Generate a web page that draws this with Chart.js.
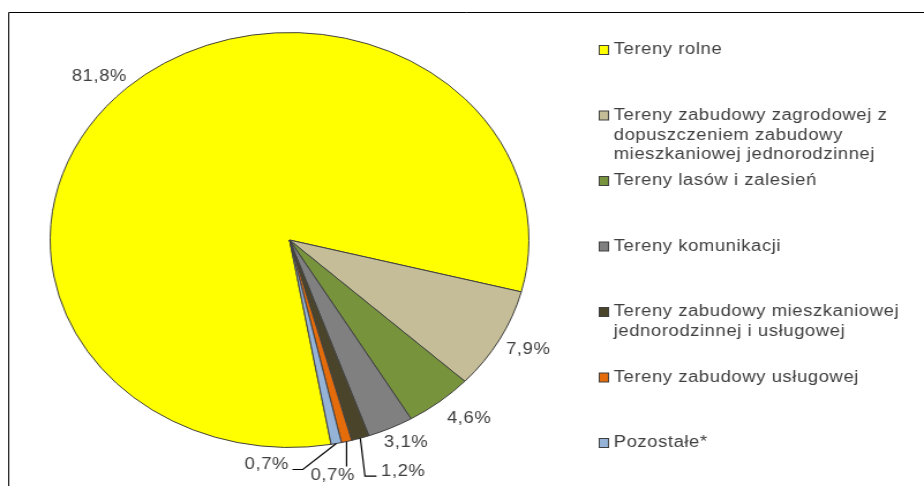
<!DOCTYPE html>
<html>
<head>
<meta charset="utf-8">
<script src="https://cdn.jsdelivr.net/npm/chart.js@4.4.1/dist/chart.umd.min.js"></script>
<style>
    html, body { margin: 0; padding: 0; background: #fff; overflow: hidden; }
    /* the source picture is a stretched screenshot, so the whole chart is widened the same way */
    #wrap { width: 801px; height: 486px; transform: scaleX(1.15356); transform-origin: 0 0; }
</style>
</head>
<body>
<div id="wrap"><canvas id="chart"></canvas></div>
<script>
const categories = [
    'Tereny rolne',
    'Tereny zabudowy zagrodowej z dopuszczeniem zabudowy mieszkaniowej jednorodzinnej',
    'Tereny lasów i zalesień',
    'Tereny komunikacji',
    'Tereny zabudowy mieszkaniowej jednorodzinnej i usługowej',
    'Tereny zabudowy usługowej',
    'Pozostałe*'
];
const shares = [81.8, 7.9, 4.6, 3.1, 1.2, 0.7, 0.7];
const valueLabels = shares.map(v => v.toFixed(1).replace('.', ',') + '%');

const sliceColors = ['#FFFF00', '#C4BD97', '#77933C', '#808080', '#4A452A', '#E46C0A', '#95B3D7'];
const textColor = '#404040';
const font = '16px "Liberation Sans", Arial, sans-serif';

// nudges for the outside labels, leader-line layout for the three small slices
const labelNudge = [[-7, 7], [3, -2], [10, -3], [3, -8]];

const drawDecor = {
    id: 'drawDecor',
    beforeDraw(chart) {
        const ctx = chart.ctx;
        ctx.save();
        ctx.strokeStyle = '#000';
        ctx.lineWidth = 1;
        ctx.beginPath();
        ctx.moveTo(7.5, chart.height + 5);
        ctx.lineTo(7.5, 12.5);
        ctx.lineTo(chart.width + 5, 12.5);
        ctx.stroke();
        ctx.restore();
    },
    afterDatasetsDraw(chart) {
        const ctx = chart.ctx;
        const arcs = chart.getDatasetMeta(0).data;
        ctx.save();
        ctx.font = font;
        ctx.letterSpacing = '0.5px';
        ctx.fillStyle = textColor;
        ctx.textBaseline = 'middle';
        ctx.strokeStyle = '#000';
        ctx.lineWidth = 1.2;

        arcs.forEach((arc, i) => {
            const { x, y, startAngle, endAngle, outerRadius } = arc.getProps(['x', 'y', 'startAngle', 'endAngle', 'outerRadius'], true);
            const mid = (startAngle + endAngle) / 2;
            const ex = x + Math.cos(mid) * outerRadius;
            const ey = y + Math.sin(mid) * outerRadius;
            const text = valueLabels[i];

            if (i < 4) {
                const r = outerRadius + 25;
                ctx.textAlign = 'center';
                ctx.fillText(text, x + Math.cos(mid) * r + labelNudge[i][0], y + Math.sin(mid) * r + labelNudge[i][1]);
                return;
            }
            ctx.beginPath();
            if (i === 4) {
                ctx.moveTo(ex, ey);
                ctx.lineTo(ex + 4, ey + 38);
                ctx.lineTo(ex + 14, ey + 38);
                ctx.stroke();
                ctx.textAlign = 'left';
                ctx.fillText(text, ex + 18, ey + 33);
            } else if (i === 5) {
                ctx.moveTo(ex, ey);
                ctx.lineTo(ex, ey + 25);
                ctx.stroke();
                ctx.textAlign = 'center';
                ctx.fillText(text, ex - 12, ey + 34);
            } else {
                ctx.moveTo(ex, ey);
                ctx.lineTo(ex - 29, ey + 26);
                ctx.lineTo(ex - 38, ey + 26);
                ctx.stroke();
                ctx.textAlign = 'right';
                ctx.fillText(text, ex - 41, ey + 21);
            }
        });

        // legend on the right, one slot per category
        const legendX = 519, textX = 532, firstY = 50, slot = 65.5, lineH = 19.7, maxW = 262;
        ctx.textAlign = 'left';
        ctx.lineWidth = 1;
        ctx.strokeStyle = '#404040';
        categories.forEach((name, i) => {
            const lines = wrapText(ctx, name, maxW);
            const top = firstY + i * slot;
            ctx.fillStyle = sliceColors[i];
            ctx.fillRect(legendX + 0.5, top - 4.5, 8, 9);
            ctx.strokeRect(legendX + 0.5, top - 4.5, 8, 9);
            ctx.fillStyle = textColor;
            lines.forEach((line, k) => ctx.fillText(line, textX, top + k * lineH));
        });
        ctx.restore();
    }
};

function wrapText(ctx, text, maxW) {
    const words = text.split(' ');
    const lines = [];
    let cur = '';
    words.forEach(w => {
        const test = cur ? cur + ' ' + w : w;
        if (cur && ctx.measureText(test).width > maxW) {
            lines.push(cur);
            cur = w;
        } else {
            cur = test;
        }
    });
    if (cur) lines.push(cur);
    return lines;
}

new Chart(document.getElementById('chart'), {
    type: 'pie',
    data: {
        labels: categories,
        datasets: [{
            data: shares,
            backgroundColor: sliceColors,
            borderColor: '#404040',
            borderWidth: 1
        }]
    },
    options: {
        responsive: true,
        maintainAspectRatio: false,
        animation: false,
        rotation: 170,
        layout: { padding: { left: 43, right: 342, top: 32, bottom: 38 } },
        plugins: {
            legend: { display: false },
            tooltip: { enabled: false }
        }
    },
    plugins: [drawDecor]
});
</script>
</body>
</html>
